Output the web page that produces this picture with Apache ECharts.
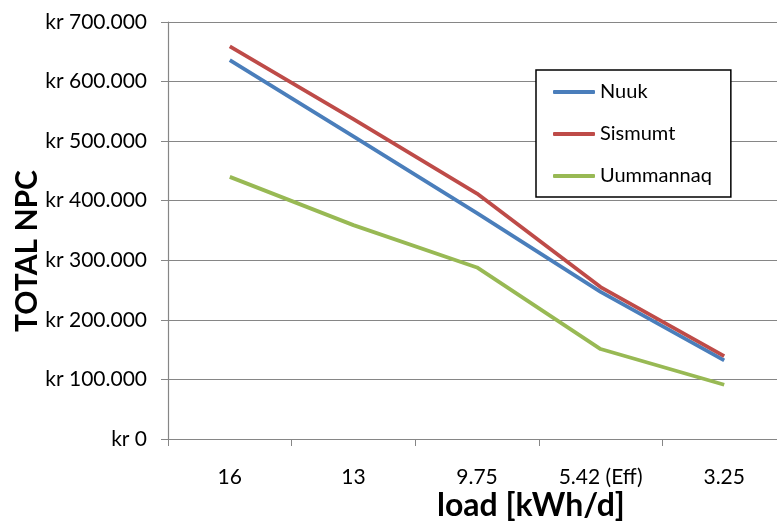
<!DOCTYPE html>
<html>
<head>
<meta charset="utf-8">
<script src="https://cdn.jsdelivr.net/npm/echarts@6/dist/echarts.min.js"></script>
<style>
  html, body { margin: 0; padding: 0; background: #fff; }
  #chart { width: 777px; height: 532px; }
</style>
</head>
<body>
<div id="chart"></div>
<script>
  // load categories (kWh/d)
  var loads = ['16', '13', '9.75', '5.42 (Eff)', '3.25'];
  // total NPC per site, kr
  var nuuk = [636000, 508000, 379000, 247000, 132000];
  var sismumt = [659000, 537000, 412000, 255000, 139000];
  var uummannaq = [440000, 359000, 288000, 151000, 91000];

  var font = 'Lato, "Open Sans", sans-serif';

  function krFormat(value) {
    if (value === 0) {
      return 'kr 0';
    }
    return 'kr ' + String(value).replace(/\B(?=(\d{3})+(?!\d))/g, '.');
  }

  var chart = echarts.init(document.getElementById('chart'));
  chart.setOption({
    animation: false,
    backgroundColor: '#fff',
    textStyle: { fontFamily: font },
    grid: {
      left: 168,
      width: 618,
      top: 22,
      height: 417,
      outerBoundsMode: 'none'
    },
    legend: {
      left: 536,
      top: 70,
      orient: 'vertical',
      itemWidth: 42,
      itemHeight: 4,
      itemGap: 18,
      padding: [10, 19, 9, 17],
      borderColor: '#000',
      borderWidth: 1.5,
      borderRadius: 0,
      backgroundColor: '#fff',
      icon: 'roundRect',
      textStyle: { fontFamily: font, fontSize: 20, lineHeight: 24, color: '#000' },
      data: ['Nuuk', 'Sismumt', 'Uummannaq']
    },
    xAxis: {
      type: 'category',
      data: loads,
      boundaryGap: true,
      axisLine: { lineStyle: { color: '#868686', width: 1.2 } },
      axisTick: { show: true, length: 7, lineStyle: { color: '#868686' } },
      axisLabel: { color: '#000', fontSize: 21, fontFamily: font, margin: 28 }
    },
    yAxis: {
      type: 'value',
      min: 0,
      max: 700000,
      interval: 100000,
      axisLine: { show: true, lineStyle: { color: '#868686', width: 1.2 } },
      axisTick: { show: true, length: 7, lineStyle: { color: '#868686' } },
      axisLabel: { color: '#000', fontSize: 21, fontFamily: font, margin: 21, formatter: krFormat },
      splitLine: { lineStyle: { color: '#868686', width: 1 } }
    },
    graphic: [{
      type: 'text',
      left: 437,
      top: 490,
      style: {
        text: 'load [kWh/d]',
        fontSize: 32,
        fontWeight: 'bold',
        fontFamily: font,
        fill: '#000'
      }
    }, {
      // y axis title sits lower than the axis middle in the original
      type: 'text',
      x: 27,
      y: 251,
      rotation: Math.PI / 2,
      style: {
        text: 'TOTAL NPC',
        fontSize: 30,
        fontWeight: 'bold',
        fontFamily: font,
        fill: '#000',
        align: 'center',
        verticalAlign: 'middle'
      }
    }],
    series: [{
      name: 'Nuuk',
      type: 'line',
      data: nuuk,
      symbol: 'none',
      color: '#4a7ebb',
      lineStyle: { width: 3.8 }
    }, {
      name: 'Sismumt',
      type: 'line',
      data: sismumt,
      symbol: 'none',
      color: '#be4b48',
      lineStyle: { width: 3.8 }
    }, {
      name: 'Uummannaq',
      type: 'line',
      data: uummannaq,
      symbol: 'none',
      color: '#98b954',
      lineStyle: { width: 3.8 }
    }]
  });
</script>
</body>
</html>
